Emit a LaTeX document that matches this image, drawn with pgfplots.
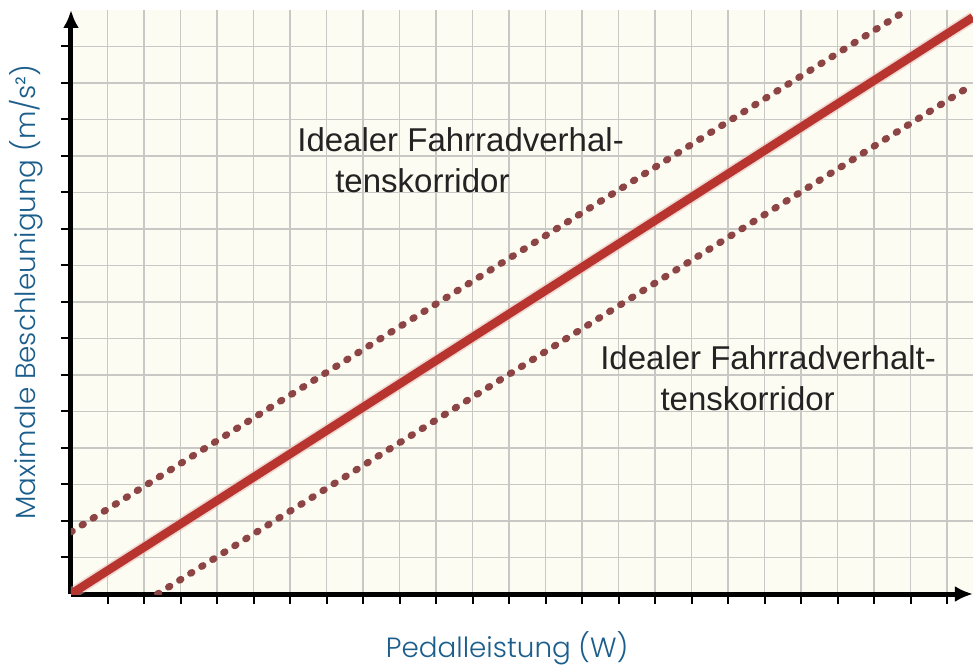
\documentclass[border=0pt]{standalone}
\usepackage{pgfplots}
\pgfplotsset{compat=1.18}
\usepackage{fontspec}
\setmainfont{Poppins}[UprightFont={* Light}]
\newfontfamily\annofont{Liberation Sans}
\usetikzlibrary{arrows.meta}
\definecolor{labelblue}{RGB}{27,94,140}
\definecolor{cream}{RGB}{253,252,242}
\definecolor{gridgray}{RGB}{200,200,197}
\definecolor{mainred}{RGB}{184,52,46}
\definecolor{dotred}{RGB}{140,68,68}
\definecolor{annogray}{RGB}{35,35,35}
\begin{document}
\begin{tikzpicture}
\begin{axis}[
  at={(0,0)}, anchor=origin,
  x=18.25pt, y=18.25pt,
  xmin=0, xmax=24.71, ymin=0, ymax=16,
  axis lines=left,
  axis line style={line width=2.5pt, -{Latex[length=9pt,width=8pt]}},
  xtick={1,...,24}, ytick={1,...,15},
  xticklabels={}, yticklabels={},
  tick align=outside,
  major tick length=5pt,
  tick style={black, line width=1pt},
  grid=major,
  major grid style={line width=0.75pt, gridgray},
  axis background/.style={fill=cream},
  clip mode=individual,
  xlabel={Pedalleistung (W)},
  ylabel={Maximale Beschleunigung (m/s²)},
  every axis x label/.style={at={(axis description cs:0.4836,0)}, anchor=base, yshift=-31.5pt, font=\fontsize{13.9}{16}\selectfont, text=labelblue},
  every axis y label/.style={at={(axis description cs:0,0.517)}, rotate=90, anchor=base, yshift=17.5pt, font=\fontsize{13.9}{16}\selectfont, text=labelblue},
]
% main line halo and line
\addplot[line width=6pt, color=mainred!35, opacity=0.5] coordinates {(0,0) (24.71,15.80)};
\addplot[line width=4.25pt, color=mainred] coordinates {(0,0) (24.71,15.80)};
% upper dotted corridor
\addplot[line width=3.5pt, color=dotred, line cap=round, dash pattern=on 0.8pt off 5.7pt] coordinates {(0,1.70) (22.9,16.0)};
% lower dotted corridor
\addplot[line width=3.5pt, color=dotred, line cap=round, dash pattern=on 0.8pt off 5.7pt] coordinates {(2.37,0) (24.71,13.96)};
% annotations
\node[anchor=base west, inner sep=0pt, text=annogray, font=\annofont\fontsize{16.5}{19}\selectfont] at (axis cs:6.19,12.11) {Idealer Fahrradverhal-};
\node[anchor=base west, inner sep=0pt, text=annogray, font=\annofont\fontsize{16.5}{19}\selectfont] at (axis cs:7.23,10.99) {tenskorridor};
\node[anchor=base west, inner sep=0pt, text=annogray, font=\annofont\fontsize{16.5}{19}\selectfont] at (axis cs:14.49,6.14) {Idealer Fahrradverhalt-};
\node[anchor=base west, inner sep=0pt, text=annogray, font=\annofont\fontsize{16.5}{19}\selectfont] at (axis cs:16.14,5.04) {tenskorridor};
\end{axis}
\pgfresetboundingbox
\path[use as bounding box] (-35.5pt,-37pt) rectangle (451pt,297pt);
\end{tikzpicture}
\end{document}
